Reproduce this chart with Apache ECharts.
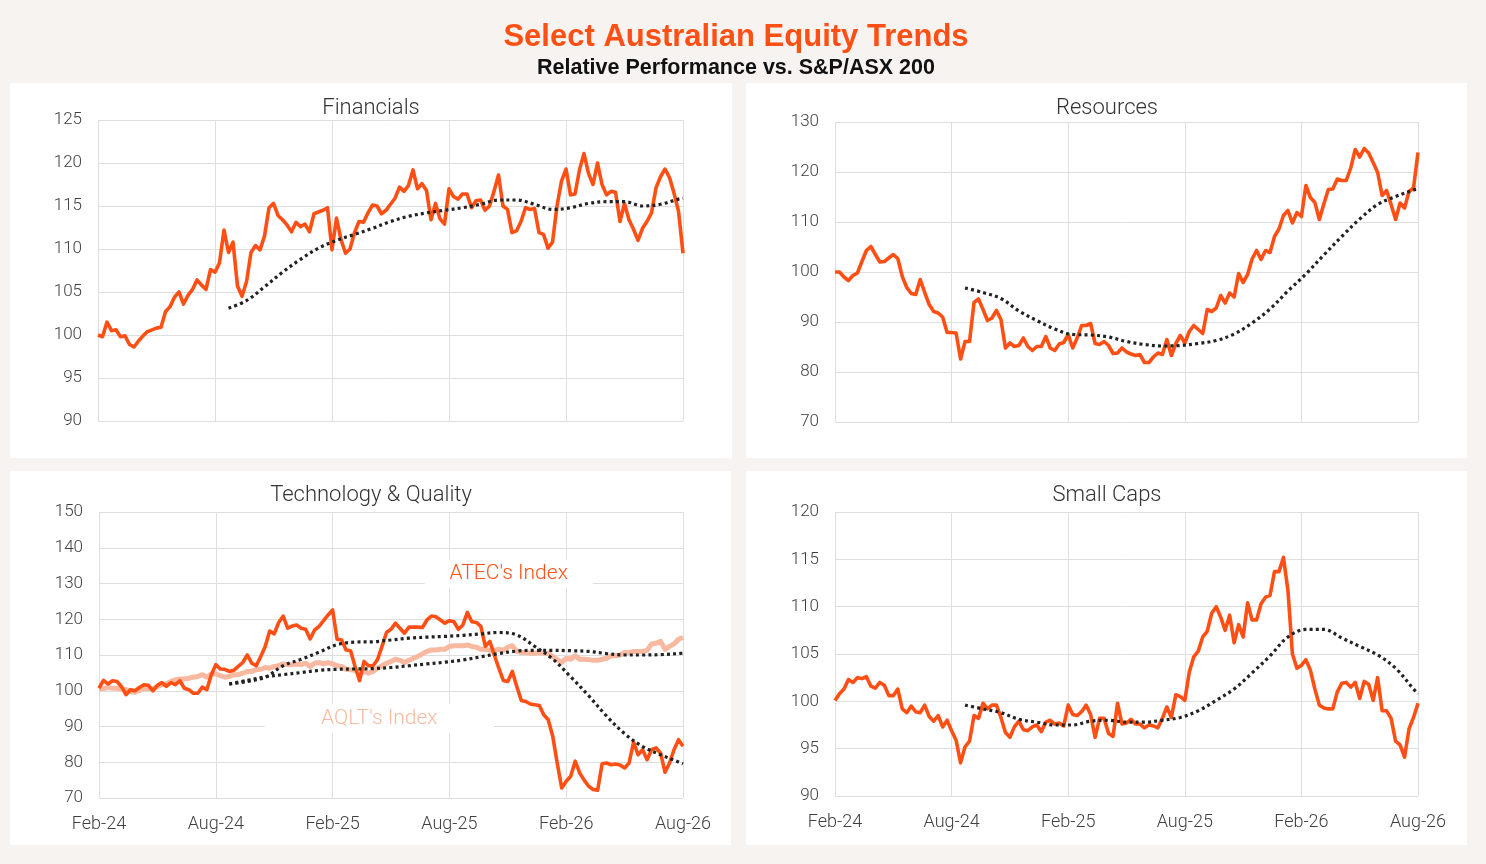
<!DOCTYPE html>
<html>
<head>
<meta charset="utf-8">
<script src="https://cdn.jsdelivr.net/npm/echarts@6/dist/echarts.min.js"></script>
<style>
  html, body { margin:0; padding:0; background:#f7f3f0; }
  #wrap { position:relative; width:1486px; height:864px; }
  .panel { position:absolute; background:#ffffff; }
  #chart { position:absolute; left:0; top:0; width:1486px; height:864px; }
</style>
</head>
<body>
<div id="wrap">
  <div class="panel" style="left:10px;top:83px;width:722px;height:375px;"></div>
  <div class="panel" style="left:746px;top:83px;width:721px;height:375px;"></div>
  <div class="panel" style="left:10px;top:471px;width:721px;height:374px;"></div>
  <div class="panel" style="left:746px;top:471px;width:721px;height:374px;"></div>
  <div id="chart"></div>
</div>
<script>
// ---- DATA (weekly, week 0 = Feb-24) ----
const tickLabels = ['Feb-24','Aug-24','Feb-25','Aug-25','Feb-26','Aug-26'];

const financials = [100.0,99.8,101.5,100.5,100.6,99.8,99.9,98.9,98.6,99.3,
  99.9,100.4,100.6,100.8,100.9,102.7,103.3,104.4,105.0,103.6,
  104.6,105.3,106.4,105.8,105.3,107.6,107.3,108.4,112.2,109.6,
  110.8,105.7,104.5,106.2,109.6,110.4,109.9,111.5,114.8,115.3,
  113.9,113.4,112.8,112.0,113.1,112.6,112.9,112.0,114.1,114.3,
  114.5,114.8,109.9,113.6,111.1,109.5,110.0,111.9,113.2,113.1,
  114.2,115.1,115.0,114.1,114.5,115.2,115.9,117.2,116.7,117.4,
  119.2,117.0,117.6,116.8,113.4,115.3,113.5,112.9,117.0,116.1,
  115.8,116.4,116.4,114.8,115.6,115.7,114.5,115.0,116.7,118.6,
  115.0,114.6,111.9,112.1,113.2,114.8,114.6,114.7,111.9,111.7,
  110.1,110.8,115.0,117.9,119.3,116.3,116.4,119.2,121.1,118.8,
  117.5,120.0,117.5,116.3,116.7,116.6,113.2,115.3,113.4,112.3,
  111.0,112.4,113.2,114.2,117.1,118.4,119.3,118.3,116.5,114.4,
  109.5];

const resources = [100.0,100.0,99.0,98.3,99.3,99.8,102.1,104.3,105.1,103.5,
  102.0,102.1,102.8,103.5,102.7,99.1,96.9,95.7,95.5,98.5,
  95.9,93.5,92.1,91.8,91.0,87.9,87.9,87.8,82.6,86.1,
  86.1,93.9,94.6,92.5,90.3,90.8,92.3,90.5,84.8,85.8,
  85.1,85.3,86.8,85.1,84.3,85.1,85.1,87.1,84.8,84.3,
  85.6,85.9,87.5,84.8,86.8,89.3,89.3,89.7,85.7,85.5,
  86.1,85.3,83.7,83.8,84.8,84.0,83.6,83.3,83.5,81.9,
  81.9,83.0,83.8,83.5,86.5,83.3,85.7,87.3,85.8,88.1,
  89.3,88.5,87.7,92.5,92.1,92.8,95.3,93.8,95.8,95.0,
  99.7,97.9,99.5,102.6,104.3,102.5,104.3,103.9,107.1,108.6,
  111.3,112.3,109.8,111.9,111.1,117.3,114.9,113.9,110.5,113.6,
  116.5,116.6,118.6,118.3,118.3,120.8,124.5,123.0,124.7,123.8,
  121.9,119.9,115.3,116.3,113.5,110.5,113.8,112.8,116.1,116.8,
  123.9];

const atec = [100.7,102.9,101.9,102.8,102.6,101.2,98.9,100.3,100.0,100.9,
  101.7,101.5,100.0,101.5,102.3,101.2,102.3,101.7,102.8,100.7,
  100.3,99.3,99.3,101.0,100.3,104.5,107.3,106.1,106.0,105.4,
  105.7,106.8,107.9,110.0,107.7,107.0,109.6,112.4,116.7,115.9,
  119.1,120.9,117.5,118.1,118.4,117.5,117.2,114.5,117.0,118.0,
  119.6,121.2,122.6,114.4,114.2,111.4,111.2,106.8,102.8,108.2,
  107.0,107.0,108.7,112.4,116.3,117.2,118.9,117.5,116.1,117.8,
  117.8,117.8,117.7,119.8,120.9,120.7,119.8,118.9,119.6,119.3,
  117.2,118.4,121.9,119.3,119.1,118.0,112.4,113.8,110.0,106.3,
  102.9,102.6,105.4,101.2,97.3,97.0,96.3,96.1,95.9,93.3,
  91.9,87.3,79.8,72.8,74.7,76.1,80.3,77.0,75.0,73.3,
  72.4,72.2,79.6,79.8,79.3,79.5,79.2,78.4,79.8,85.6,
  82.1,83.5,80.7,83.5,84.0,82.6,77.2,79.8,83.5,86.3,
  84.5];

const aqlt = [100.5,100.6,100.9,100.7,100.7,100.5,100.3,99.8,99.6,100.1,
  100.5,100.7,100.5,101.2,101.7,101.9,102.6,103.1,103.3,103.3,
  103.5,103.8,104.0,104.5,103.8,104.7,104.7,104.2,103.8,104.0,
  104.5,104.5,104.9,105.4,105.4,105.9,106.0,106.5,106.3,106.8,
  107.0,107.5,107.3,107.3,107.5,107.3,107.7,106.8,107.7,107.9,
  107.5,107.9,107.5,107.0,106.8,106.0,105.9,105.7,104.9,105.4,
  104.9,105.4,106.3,107.0,107.7,108.2,108.8,108.5,107.9,108.5,
  109.1,109.6,110.3,111.0,111.4,111.4,111.6,111.6,112.4,112.6,
  112.6,112.6,112.8,112.4,112.2,111.6,111.6,111.3,111.3,111.6,
  111.3,112.2,112.6,111.0,110.7,110.7,110.5,110.5,110.7,110.5,
  110.5,109.6,108.7,107.9,109.1,108.8,109.8,108.8,108.8,108.7,
  108.5,108.5,108.8,109.1,109.8,109.8,110.0,110.7,110.7,111.0,
  111.0,111.0,111.3,113.1,113.3,113.8,111.6,112.4,113.1,114.4,
  114.9];

const smallCaps = [100.1,100.8,101.3,102.3,102.0,102.5,102.4,102.6,101.6,101.4,
  102.0,101.7,100.6,100.6,101.3,99.2,98.8,99.5,98.9,98.8,
  99.6,98.4,97.9,98.5,97.3,98.0,96.9,95.9,93.5,95.2,
  95.8,98.5,98.2,99.8,99.2,99.6,99.6,98.3,96.7,96.2,
  97.3,97.9,97.0,96.9,97.3,97.5,96.8,97.8,98.0,97.6,
  97.7,97.4,99.6,98.6,98.5,98.9,99.6,98.6,96.2,98.2,
  98.2,96.6,96.3,99.8,97.6,97.7,98.1,97.6,97.6,97.2,
  97.5,97.4,97.2,98.2,99.4,98.3,100.7,100.5,100.1,103.1,
  104.7,105.3,106.8,107.4,109.3,110.0,108.9,107.5,109.1,106.2,
  108.1,106.8,110.4,108.6,108.6,110.3,111.0,111.2,113.7,113.7,
  115.2,111.7,105.0,103.5,103.8,104.4,103.3,101.3,99.6,99.3,
  99.2,99.2,101.0,101.9,102.0,101.5,102.0,100.3,102.1,101.8,
  100.1,102.5,99.0,99.0,98.2,95.8,95.4,94.1,97.1,98.3,
  99.8];

// trend lines (moving averages), sampled at these weeks
const trendWeeks = [29,33,37,41,45,49,53,57,61,65,69,73,77,81,85,89,93,97,101,105,109,113,117,121,125,129,130];
const financialsTrend = [103.1,104.0,105.6,107.3,108.8,110.1,111.0,111.7,112.4,113.2,113.8,114.2,114.5,114.8,115.2,115.7,115.7,115.2,114.6,114.8,115.3,115.5,115.5,115.0,115.2,115.8,115.9];
const resourcesTrend = [96.8,95.9,94.7,92.2,90.3,88.6,87.5,87.4,87.0,86.1,85.5,85.2,85.3,85.7,86.3,87.6,89.8,92.6,96.2,99.6,103.4,107.1,110.6,113.5,115.1,116.4,116.6];
const atecTrend = [101.9,102.6,103.8,107.0,108.8,110.8,112.9,113.6,113.7,114.2,114.7,115.0,115.2,115.5,115.9,116.3,115.6,112.4,108.9,103.9,98.6,92.9,88.0,84.4,82.1,80.1,79.6];
const aqltTrend = [101.9,102.9,103.9,104.5,105.1,105.7,106.0,106.1,106.2,106.5,107.0,107.5,108.0,108.6,109.5,110.4,111.1,111.3,111.3,111.2,111.0,110.4,110.0,110.0,110.1,110.4,110.5];
const smallCapsTrend = [99.6,99.2,98.8,98.1,97.8,97.5,97.5,97.9,98.0,97.8,97.8,98.0,98.3,99.0,100.1,101.3,103.0,104.8,106.8,107.6,107.6,106.7,105.8,104.9,103.5,101.3,100.8];

// ---- STYLE ----
const ORANGE = '#FF4F14';
const SALMON = '#F8B9A0';
const DOT = '#222222';
const GRID = '#dedede';
const LABEL = '#404040';
const FONT = 'Roboto, "Liberation Sans", sans-serif';

const chart = echarts.init(document.getElementById('chart'), null, {renderer:'canvas'});

const grids = [
  {left:98, top:120, width:585, height:301},
  {left:835, top:122, width:583, height:300},
  {left:99, top:512, width:584, height:286},
  {left:835, top:512, width:583, height:284}
];
const yRanges = [[90,125,5],[70,130,10],[70,150,10],[90,120,5]];

function xAxis(i, showLabels) {
  return {
    type:'value', gridIndex:i, min:0, max:130, interval:26,
    axisLine:{show:false}, axisTick:{show:false},
    splitLine:{show:true, lineStyle:{color:GRID, width:1}},
    axisLabel:{show:showLabels, margin:17, color:LABEL, fontSize:18, fontFamily:FONT, fontWeight:300,
      formatter: v => tickLabels[Math.round(v/26)]}
  };
}
function yAxis(i) {
  const r = yRanges[i];
  return {
    type:'value', gridIndex:i, min:r[0], max:r[1], interval:r[2],
    axisLine:{show:false}, axisTick:{show:false},
    splitLine:{show:true, lineStyle:{color:GRID, width:1}},
    axisLabel:{margin:16, color:LABEL, fontSize:17, fontFamily:FONT, fontWeight:300}
  };
}
function line(values, gi, color, width, z, extra) {
  return Object.assign({
    type:'line', xAxisIndex:gi, yAxisIndex:gi,
    data: values.map((v,i)=>[i,v]),
    symbol:'none', showSymbol:false, silent:true,
    lineStyle:{color:color, width:width, join:'round'}, z:z
  }, extra || {});
}
function trend(values, gi) {
  return {
    type:'line', xAxisIndex:gi, yAxisIndex:gi,
    data: trendWeeks.map((w,i)=>[w, values[i]]),
    symbol:'none', showSymbol:false, silent:true, smooth:0.35,
    lineStyle:{color:DOT, width:3.2, type:[3,3.2], cap:'butt'}, z:5
  };
}

const panelTitles = [
  {t:'Financials', x:371, y:108},
  {t:'Resources', x:1107, y:108},
  {t:'Technology & Quality', x:371, y:495},
  {t:'Small Caps', x:1107, y:495}
];

const option = {
  animation:false,
  backgroundColor:'transparent',
  grid: grids,
  xAxis: [xAxis(0,false), xAxis(1,false), xAxis(2,true), xAxis(3,true)],
  yAxis: [yAxis(0), yAxis(1), yAxis(2), yAxis(3)],
  graphic: [
    {type:'text', x:736, y:37, style:{text:'Select Australian Equity Trends', fill:ORANGE,
      font:'bold 31px "Liberation Sans", Arial, sans-serif', textAlign:'center', textVerticalAlign:'middle'}},
    {type:'text', x:736, y:68, style:{text:'Relative Performance vs. S&P/ASX 200', fill:'#111111',
      font:'bold 21.5px "Liberation Sans", Arial, sans-serif', textAlign:'center', textVerticalAlign:'middle'}}
  ].concat(panelTitles.map(p => ({type:'text', x:p.x, y:p.y,
      style:{text:p.t, fill:'#333333', font:'300 22px ' + FONT, textAlign:'center', textVerticalAlign:'middle'}}))),
  series: [
    line(financials, 0, ORANGE, 3.6, 3),
    trend(financialsTrend, 0),
    line(resources, 1, ORANGE, 3.6, 3),
    trend(resourcesTrend, 1),
    line(aqlt, 2, SALMON, 5, 2, {
      markPoint:{silent:true, symbol:'rect', symbolSize:[229,29], itemStyle:{color:'#ffffff'},
        label:{show:true, position:'inside', formatter:"AQLT's Index", color:SALMON, fontSize:21, fontFamily:FONT, fontWeight:300},
        data:[{coord:[62.4, 92.2]}]}
    }),
    line(atec, 2, ORANGE, 3.6, 3, {
      markPoint:{silent:true, symbol:'rect', symbolSize:[168,28], itemStyle:{color:'#ffffff'},
        label:{show:true, position:'inside', formatter:"ATEC's Index", color:ORANGE, fontSize:21, fontFamily:FONT, fontWeight:300},
        data:[{coord:[91.2, 132.7]}]}
    }),
    trend(aqltTrend, 2),
    trend(atecTrend, 2),
    line(smallCaps, 3, ORANGE, 3.6, 3),
    trend(smallCapsTrend, 3)
  ]
};
chart.setOption(option);
</script>
</body>
</html>
